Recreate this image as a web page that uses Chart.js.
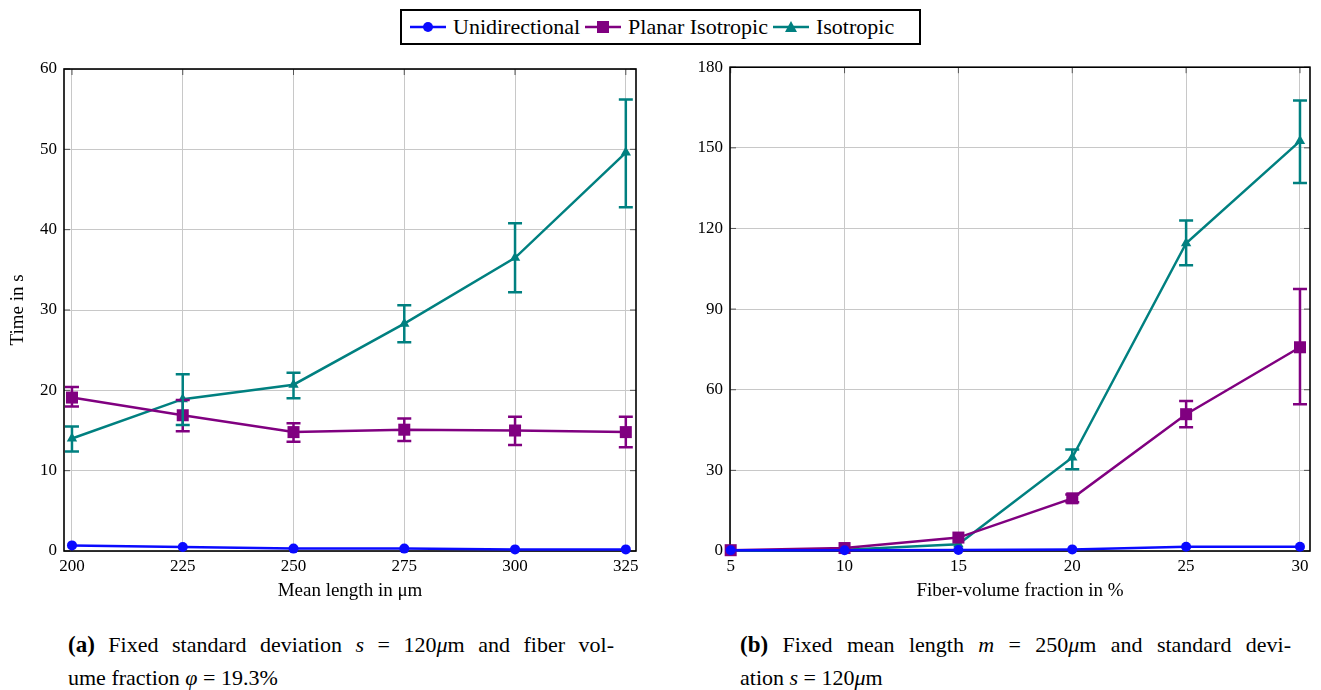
<!DOCTYPE html>
<html>
<head>
<meta charset="utf-8">
<script src="https://cdn.jsdelivr.net/npm/chart.js@4.4.1/dist/chart.umd.min.js"></script>
<style>
  body { margin: 0; background: #fff; width: 1321px; height: 690px; position: relative; overflow: hidden; font-family: "Liberation Serif", serif; color: #000; }
  canvas { position: absolute; }
  #legend { position: absolute; left: 400px; top: 9px; width: 517px; height: 32px; border: 2px solid #000; display: flex; align-items: center; font-size: 22px; box-sizing: content-box; white-space: nowrap; }
  #legend .item { display: flex; align-items: center; margin-left: 5px; }
  #legend .item:first-child { margin-left: 8px; }
  #legend svg { margin-right: 7px; }
  .cap { position: absolute; font-size: 22px; line-height: 33px; white-space: nowrap; }
  .cap .l1 { display: block; text-align: justify; text-align-last: justify; white-space: normal; }
  .cap .l2 { display: block; }
  .cap b { font-size: 23px; }
</style>
</head>
<body>
<div id="legend">
  <span class="item"><svg width="36" height="14"><line x1="0" y1="7" x2="36" y2="7" stroke="#0a0aff" stroke-width="2.5"/><circle cx="18" cy="7" r="5" fill="#0a0aff"/></svg>Unidirectional</span>
  <span class="item"><svg width="36" height="14"><line x1="0" y1="7" x2="36" y2="7" stroke="#800080" stroke-width="2.5"/><rect x="12" y="1" width="12" height="12" fill="#800080"/></svg>Planar Isotropic</span>
  <span class="item"><svg width="36" height="14"><line x1="0" y1="7" x2="36" y2="7" stroke="#008080" stroke-width="2.5"/><polygon points="18,1 24,12 12,12" fill="#008080"/></svg>Isotropic</span>
</div>
<canvas id="chartA" width="660" height="560" style="left:0;top:50px"></canvas>
<canvas id="chartB" width="651" height="560" style="left:670px;top:50px"></canvas>
<div class="cap" style="left:68px;top:628px;width:546px">
  <span class="l1"><b>(a)</b> Fixed standard deviation <i>s</i> = 120<i>μ</i>m and fiber vol-</span>
  <span class="l2">ume fraction <i>φ</i> = 19.3%</span>
</div>
<div class="cap" style="left:740px;top:628px;width:551px">
  <span class="l1"><b>(b)</b> Fixed mean length <i>m</i> = 250<i>μ</i>m and standard devi-</span>
  <span class="l2">ation <i>s</i> = 120<i>μ</i>m</span>
</div>
<script>
// x values
const lengths = [200, 225, 250, 275, 300, 325];
const fractions = [5, 10, 15, 20, 25, 30];
// tick labels
const timeTicksA = [0, 10, 20, 30, 40, 50, 60];
const timeTicksB = [0, 30, 60, 90, 120, 150, 180];

// (a) fixed s, phi
const uniA = [0.7, 0.5, 0.3, 0.3, 0.2, 0.2];
const planarA = [19.1, 16.9, 14.8, 15.1, 15.0, 14.8];
const planarALow = [18.0, 14.9, 13.6, 13.7, 13.2, 12.9];
const planarAHigh = [20.4, 18.8, 15.9, 16.5, 16.7, 16.7];
const isoA = [14.0, 18.9, 20.7, 28.3, 36.5, 49.6];
const isoALow = [12.4, 15.7, 19.0, 26.0, 32.2, 42.8];
const isoAHigh = [15.5, 22.0, 22.2, 30.6, 40.8, 56.2];

// (b) fixed m, s
const uniB = [0.3, 0.3, 0.4, 0.6, 1.6, 1.6];
const planarB = [0.3, 1.1, 5.0, 19.6, 50.9, 75.8];
const planarBLow = [null, null, null, 18.1, 46.0, 54.6];
const planarBHigh = [null, null, null, 21.0, 55.8, 97.5];
const isoB = [0.1, 0.5, 2.5, 34.8, 114.5, 152.5];
const isoBLow = [null, null, null, 30.4, 106.3, 136.9];
const isoBHigh = [null, null, null, 37.8, 123.0, 167.6];

const BLUE = '#0a0aff', PURPLE = '#800080', TEAL = '#008080';
const SERIF = '"Liberation Serif", serif';

function pts(xs, ys) { return xs.map((v, i) => ({ x: v, y: ys[i] })); }

function series(label, xs, ys, color, style, radius, low, high) {
  return {
    label: label, data: pts(xs, ys), low: low, high: high,
    borderColor: color, backgroundColor: color,
    borderWidth: 2.5, pointStyle: style, pointRadius: radius,
    pointBorderWidth: 0, pointHoverRadius: radius,
    tension: 0, clip: false
  };
}

// frame, inner ticks and error bars
const framePlugin = {
  id: 'frame',
  beforeDatasetsDraw(chart) {
    const { ctx, chartArea: a, scales: { x, y } } = chart;
    ctx.save();
    ctx.strokeStyle = '#555';
    ctx.lineWidth = 1;
    x.ticks.forEach(t => {
      const px = x.getPixelForValue(t.value);
      ctx.beginPath();
      ctx.moveTo(px, a.top); ctx.lineTo(px, a.top + 6);
      ctx.moveTo(px, a.bottom); ctx.lineTo(px, a.bottom - 6);
      ctx.stroke();
    });
    y.ticks.forEach(t => {
      const py = y.getPixelForValue(t.value);
      ctx.beginPath();
      ctx.moveTo(a.left, py); ctx.lineTo(a.left + 6, py);
      ctx.moveTo(a.right, py); ctx.lineTo(a.right - 6, py);
      ctx.stroke();
    });
    ctx.strokeStyle = '#000';
    ctx.lineWidth = 1.6;
    ctx.strokeRect(a.left, a.top, a.right - a.left, a.bottom - a.top);
    ctx.restore();
  },
  afterDatasetsDraw(chart) {
    const { ctx, scales: { x, y } } = chart;
    chart.data.datasets.forEach(ds => {
      if (!ds.low) return;
      ctx.save();
      ctx.strokeStyle = ds.borderColor;
      ctx.lineWidth = 2.5;
      ds.data.forEach((p, j) => {
        if (ds.low[j] == null) return;
        const px = x.getPixelForValue(p.x);
        const y1 = y.getPixelForValue(ds.low[j]);
        const y2 = y.getPixelForValue(ds.high[j]);
        ctx.beginPath();
        ctx.moveTo(px, y1); ctx.lineTo(px, y2);
        ctx.moveTo(px - 7, y1); ctx.lineTo(px + 7, y1);
        ctx.moveTo(px - 7, y2); ctx.lineTo(px + 7, y2);
        ctx.stroke();
      });
      ctx.restore();
    });
  }
};

function makeOptions(xs, xmin, xmax, yTicks, xTitle, yTitle, yWidth, pad) {
  return {
    responsive: false,
    animation: false,
    layout: { padding: pad },
    plugins: { legend: { display: false }, tooltip: { enabled: false } },
    scales: {
      x: {
        type: 'linear', min: xmin, max: xmax,
        afterBuildTicks: s => { s.ticks = xs.map(v => ({ value: v })); },
        afterFit: s => { s.height = 59; },
        grid: { color: '#c8c8c8', lineWidth: 1, drawTicks: false },
        border: { display: false },
        ticks: { color: '#000', font: { family: SERIF, size: 17 }, padding: 5, maxRotation: 0 },
        title: { display: true, text: xTitle, color: '#000', font: { family: SERIF, size: 19 }, padding: { top: 0, bottom: 7.6 } }
      },
      y: {
        type: 'linear', min: yTicks[0], max: yTicks[yTicks.length - 1],
        afterBuildTicks: s => { s.ticks = yTicks.map(v => ({ value: v })); },
        afterFit: s => { s.width = yWidth; },
        grid: { color: '#c8c8c8', lineWidth: 1, drawTicks: false },
        border: { display: false },
        ticks: { color: '#000', font: { family: SERIF, size: 17 }, padding: 7 },
        title: { display: !!yTitle, text: yTitle, color: '#000', font: { family: SERIF, size: 19 }, padding: { top: 6.6, bottom: 0 } }
      }
    }
  };
}

new Chart(document.getElementById('chartA'), {
  type: 'line',
  data: {
    datasets: [
      series('Unidirectional', lengths, uniA, BLUE, 'circle', 5),
      series('Planar Isotropic', lengths, planarA, PURPLE, 'rect', 8.5, planarALow, planarAHigh),
      series('Isotropic', lengths, isoA, TEAL, 'triangle', 6, isoALow, isoAHigh)
    ]
  },
  options: makeOptions(lengths, 198.2, 327.3, timeTicksA, 'Mean length in μm', 'Time in s', 64,
    { top: 19, right: 24, left: 0, bottom: 0 }),
  plugins: [framePlugin]
});

new Chart(document.getElementById('chartB'), {
  type: 'line',
  data: {
    datasets: [
      series('Unidirectional', fractions, uniB, BLUE, 'circle', 5),
      series('Planar Isotropic', fractions, planarB, PURPLE, 'rect', 8.5, planarBLow, planarBHigh),
      series('Isotropic', fractions, isoB, TEAL, 'triangle', 6, isoBLow, isoBHigh)
    ]
  },
  options: makeOptions(fractions, 4.97, 30.44, timeTicksB, 'Fiber-volume fraction in %', '', 60,
    { top: 12, right: 11, left: 0, bottom: 0 }),
  plugins: [framePlugin]
});
</script>
</body>
</html>
